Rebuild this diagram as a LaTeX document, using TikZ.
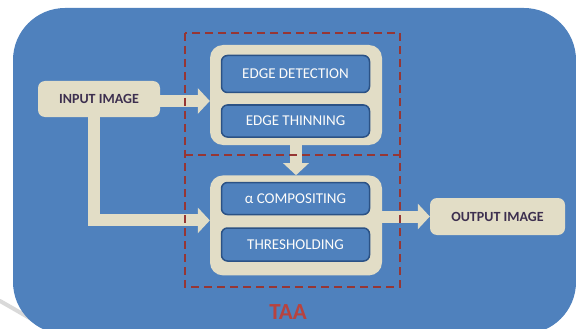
\documentclass[tikz,border=0pt]{standalone}
\usepackage{fontspec}
\setmainfont{Carlito}
\usetikzlibrary{arrows.meta,positioning}
\definecolor{bgblue}{HTML}{4F81BD}
\definecolor{sand}{HTML}{E2DDC6}
\definecolor{navy}{HTML}{2B5285}
\definecolor{plum}{HTML}{3D2F4F}
\definecolor{brick}{HTML}{963634}
\definecolor{taared}{HTML}{B8433F}

\begin{document}
\begin{tikzpicture}[x=1pt,y=-1pt,
    font=\fontsize{15}{17}\selectfont,
    io/.style={fill=sand,text=plum,font=\fontsize{14}{16}\selectfont\bfseries,
      rounded corners=7pt,inner sep=0pt},
    group/.style={fill=sand,rounded corners=13pt,minimum width=172pt,
      minimum height=100pt,inner sep=0pt},
    task/.style={draw=navy,line width=1.5pt,fill=bgblue,text=white!92!sand,
      rounded corners=6pt,minimum width=148pt,inner sep=0pt},
    flow/.style={draw=sand,line width=12pt,-{Triangle[width=25pt,length=12pt]}},
    frame/.style={draw=brick,line width=1.6pt,dash pattern=on 8pt off 5pt}]

  \useasboundingbox (0,0) rectangle (576,329);
  % backdrop
  \draw[black!15,line width=4pt,line cap=round] (0,301) .. controls (18,311) and (32,320) .. (52,330);
  \fill[bgblue,rounded corners=52pt] (13,8) rectangle (576,334);

  \node[io,minimum width=122pt,minimum height=36pt] (in) at (99,99) {INPUT IMAGE};
  \node[io,minimum width=135pt,minimum height=37pt] (out) at (497.5,216.5) {OUTPUT IMAGE};

  \node[group] (upper) at (296,95) {};
  \node[group,below=30pt of upper] (lower) {};

  \node[task,minimum height=37pt] (detect) at (295.5,74) {EDGE DETECTION};
  \node[task,minimum height=32pt,below=11pt of detect] (thin) {EDGE THINNING};
  \node[task,minimum height=32pt] (comp) at (295.5,198.5) {α COMPOSITING};
  \node[task,minimum height=33pt,below=12pt of comp] (thresh) {THRESHOLDING};

  \draw[flow] ([yshift=-2pt]in.east) -- ([yshift=-2pt]in.east -| upper.west);
  \draw[flow] ([xshift=-5pt]in.south) |- ([yshift=5pt]lower.west);
  \draw[flow] (upper.south) -- (lower.north);
  \draw[flow] (lower.east |- out.west) -- (out.west);

  % TAA block
  \draw[frame] (185,33) rectangle (400,287);
  \draw[frame] (185,155) -- (400,155);
  \node[text=taared,font=\fontsize{23}{26}\selectfont\bfseries] (taa) at (288,312) {TAA};

\end{tikzpicture}
\end{document}
